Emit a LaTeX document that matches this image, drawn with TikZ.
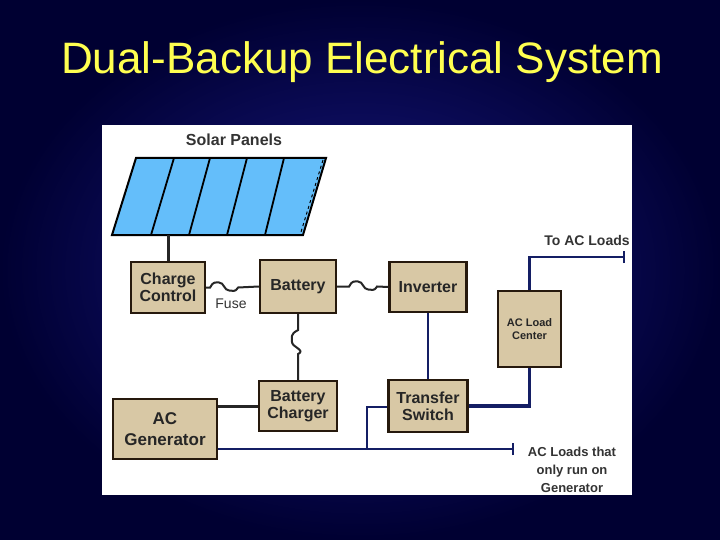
\documentclass[tikz,border=0pt]{standalone}
\usepackage{fontspec}
\setmainfont{Liberation Sans}
\definecolor{tan}{RGB}{216,200,165}
\definecolor{sky}{RGB}{100,190,250}
\definecolor{navyw}{RGB}{20,30,100}
\definecolor{bgin}{RGB}{25,25,135}
\definecolor{bgout}{RGB}{0,0,50}
\definecolor{ttl}{RGB}{255,255,80}
\begin{document}
\begin{tikzpicture}[x=1pt,y=-1pt,
 box/.style={draw=black!80!brown,line width=2.2pt,fill=tan,inner sep=0pt,font=\bfseries\fontsize{16}{17}\selectfont,text=black!85,align=center},
 wire/.style={line width=3pt,black!85},
 fw/.style={line width=2pt,black!85},
 bwire/.style={line width=2.5pt,navyw},
 lbl/.style={font=\bfseries\fontsize{14}{16}\selectfont,text=black!80,align=center}]
\useasboundingbox (0,0) rectangle (720,540);
\shade[inner color=bgin,outer color=bgout] (0,0) rectangle (720,540);
\node[text=ttl,font=\fontsize{44}{46}\selectfont] (title) at (362,62) {Dual-Backup Electrical System};
\fill[white] (102,125) rectangle (632,495);
% solar panel
\fill[sky] (112,235) -- (136,158) -- (326,158) -- (303,235) -- cycle;
\draw[line width=2pt] (112,235) -- (136,158) -- (326,158) -- (303,235) -- cycle;
\draw[line width=1pt,dashed] (323,160) -- (301,232);
\foreach \a/\b in {151/174,189/210,227/247,265/284}
  \draw[line width=1.8pt] (\a,235) -- (\b,158);
\node[lbl,font=\bfseries\fontsize{16}{18}\selectfont] (sp) at (234,140) {Solar Panels};
\coordinate (pb) at (168,235);
% boxes
\node[box,minimum width=74pt,minimum height=51pt] (cc) at (168,287.5) {Charge\\Control};
\node[box,minimum width=76pt,minimum height=53pt] (bat) at (298,286.5) {Battery};
\node[box,minimum width=77pt,minimum height=50pt] (inv) at (428,287) {Inverter};
\node[box,minimum width=63pt,minimum height=76pt,font=\bfseries\fontsize{11}{13}\selectfont] (alc) at (529.5,329) {AC Load\\Center};
\node[box,minimum width=78pt,minimum height=50pt] (bc) at (298,406) {Battery\\Charger};
\node[box,minimum width=79pt,minimum height=52pt] (ts) at (428,406) {Transfer\\Switch};
\node[box,minimum width=104pt,minimum height=60pt,font=\bfseries\fontsize{17}{21}\selectfont] (gen) at (165,429) {AC\\Generator};
\node[font=\fontsize{14}{15}\selectfont,text=black!80] (fuse) at (231,304) {Fuse};
% black wires
\draw[wire] (pb) -- (cc.north);
\draw[fw] (cc.east) -- ++(4,0) .. controls ++(3,-6) and ++(-4,0) .. ++(9,-5) .. controls ++(5,0) and ++(-5,0) .. ++(10,8) .. controls ++(4,0) and ++(-3,5) .. ++(9,-3) -- (bat.west);
\draw[fw] (bat.east) -- ++(12,0) .. controls ++(3,-6) and ++(-4,0) .. ++(9,-5) .. controls ++(5,0) and ++(-5,0) .. ++(10,8) .. controls ++(4,0) and ++(-3,5) .. ++(9,-3) -- (inv.west);
\draw[fw] (bat.south) -- ++(0,16) .. controls ++(-8,4) and ++(0,-5) .. ++(-6,12) .. controls ++(0,5) and ++(8,-4) .. ++(6,12) -- (bc.north);
\draw[wire] (gen.east |- bc.west) -- (bc.west);
% blue wires
\draw[bwire] (inv.south) -- (ts.north);
\coordinate (ta) at (624,257);
\draw[bwire] (alc.north) -- (alc.north |- ta) -- (ta);
\draw[bwire] ([yshift=-6pt]ta) -- ([yshift=6pt]ta);
\draw[line width=3.5pt,navyw] (alc.south) -- (alc.south |- ts.east) -- (ts.east);
\coordinate (tg) at (513,449);
\draw[bwire] (gen.east |- tg) -- (tg);
\draw[bwire] ([yshift=-6pt]tg) -- ([yshift=6pt]tg);
\draw[bwire] (367,449) -- (367,407) -- (ts.west |- 0,407);
\node[lbl] (tal) at (587,240) {To AC Loads};
\node[lbl,font=\bfseries\fontsize{13}{18}\selectfont] (acl) at (572,470) {AC Loads that\\only run on\\Generator};
\end{tikzpicture}
\end{document}
